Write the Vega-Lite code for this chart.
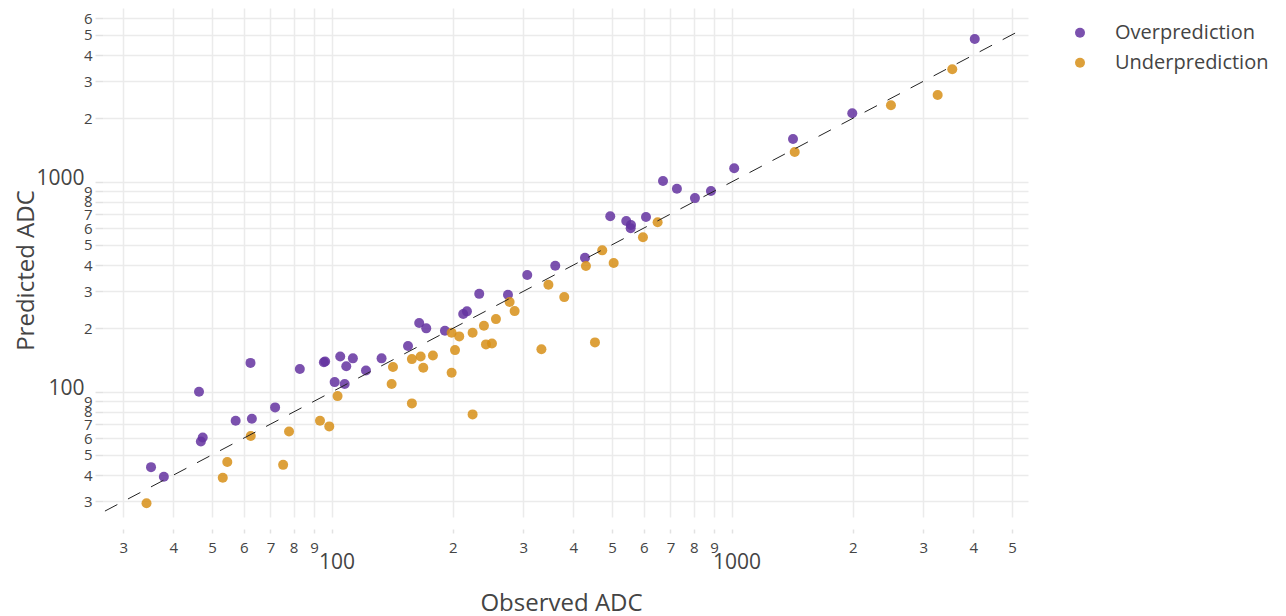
{
  "$schema": "https://vega.github.io/schema/vega-lite/v6.json",
  "width": 925,
  "height": 509,
  "autosize": {"type": "none"},
  "padding": {"left": 103, "top": 8, "right": 258, "bottom": 99},
  "background": "white",
  "config": {"view": {"stroke": null}, "font": "Open Sans"},
  "encoding": {
    "x": {
      "field": "obs", "type": "quantitative",
      "scale": {"type": "log", "domain": [26.7, 5480], "nice": false, "zero": false},
      "axis": {
        "title": "Observed ADC",
        "values": [30, 40, 50, 60, 70, 80, 90, 100, 200, 300, 400, 500, 600, 700, 800, 900, 1000, 2000, 3000, 4000, 5000],
        "labelExpr": "datum.value==100||datum.value==1000 ? toString(datum.value) : substring(toString(datum.value),0,1)",
        "labelFontSize": {"condition": {"test": "datum.value==100||datum.value==1000", "value": 21}, "value": 15},
        "labelPadding": {"condition": {"test": "datum.value==100||datum.value==1000", "value": 18}, "value": 7},
        "labelOffset": {"condition": {"test": "datum.value==100||datum.value==1000", "value": 4}, "value": 0},
        "labelFlush": false, "labelOverlap": false, "labelColor": "#444", "labelFont": "Open Sans",
        "offset": 12, "tickSize": 4, "tickColor": "#e2e2e2", "tickWidth": 1.5,
        "domain": false, "grid": true, "gridColor": "#ebebeb", "gridWidth": 1.5,
        "titleFontSize": 24, "titleFont": "Open Sans", "titleFontWeight": "normal", "titleColor": "#444",
        "titleX": 458, "titleY": 81, "titleBaseline": "alphabetic", "titleAlign": "center", "titleAnchor": null
      }
    },
    "y": {
      "field": "pred", "type": "quantitative",
      "scale": {"type": "log", "domain": [25.3, 6700], "nice": false, "zero": false},
      "axis": {
        "title": "Predicted ADC",
        "values": [30, 40, 50, 60, 70, 80, 90, 100, 200, 300, 400, 500, 600, 700, 800, 900, 1000, 2000, 3000, 4000, 5000, 6000],
        "labelExpr": "datum.value==100||datum.value==1000 ? toString(datum.value) : substring(toString(datum.value),0,1)",
        "labelFontSize": {"condition": {"test": "datum.value==100||datum.value==1000", "value": 21}, "value": 15},
        "labelPadding": {"condition": {"test": "datum.value==100||datum.value==1000", "value": 11}, "value": 3},
        "labelOffset": {"condition": {"test": "datum.value==100||datum.value==1000", "value": -3}, "value": 0},
        "labelFlush": false, "labelOverlap": false, "labelColor": "#444", "labelFont": "Open Sans",
        "tickSize": 8, "tickColor": "#e2e2e2", "tickWidth": 1.5,
        "domain": false, "grid": true, "gridColor": "#ebebeb", "gridWidth": 1.5,
        "titleFontSize": 24, "titleFont": "Open Sans", "titleFontWeight": "normal", "titleColor": "#444",
        "titleX": -70, "titleY": 262, "titleBaseline": "alphabetic", "titleAlign": "center", "titleAngle": 270, "titleAnchor": null
      }
    }
  },
  "layer": [
    {
      "data": {"values": [
        {"obs": 35.2, "pred": 43.7, "type": "Overprediction"},
        {"obs": 37.9, "pred": 39.3, "type": "Overprediction"},
        {"obs": 46.4, "pred": 99.8, "type": "Overprediction"},
        {"obs": 46.9, "pred": 57.9, "type": "Overprediction"},
        {"obs": 47.4, "pred": 60.5, "type": "Overprediction"},
        {"obs": 57.3, "pred": 72.6, "type": "Overprediction"},
        {"obs": 62.9, "pred": 74.2, "type": "Overprediction"},
        {"obs": 62.4, "pred": 137, "type": "Overprediction"},
        {"obs": 71.9, "pred": 84.1, "type": "Overprediction"},
        {"obs": 82.9, "pred": 128, "type": "Overprediction"},
        {"obs": 95.2, "pred": 138, "type": "Overprediction"},
        {"obs": 95.9, "pred": 139, "type": "Overprediction"},
        {"obs": 104.6, "pred": 147, "type": "Overprediction"},
        {"obs": 112.5, "pred": 144, "type": "Overprediction"},
        {"obs": 108.3, "pred": 132, "type": "Overprediction"},
        {"obs": 101.3, "pred": 111, "type": "Overprediction"},
        {"obs": 107.3, "pred": 108.6, "type": "Overprediction"},
        {"obs": 121.3, "pred": 126, "type": "Overprediction"},
        {"obs": 132.7, "pred": 144, "type": "Overprediction"},
        {"obs": 154.5, "pred": 165, "type": "Overprediction"},
        {"obs": 164.8, "pred": 212, "type": "Overprediction"},
        {"obs": 171.6, "pred": 200, "type": "Overprediction"},
        {"obs": 191.1, "pred": 195, "type": "Overprediction"},
        {"obs": 212.3, "pred": 234, "type": "Overprediction"},
        {"obs": 216.9, "pred": 241, "type": "Overprediction"},
        {"obs": 232.8, "pred": 292, "type": "Overprediction"},
        {"obs": 274.7, "pred": 289, "type": "Overprediction"},
        {"obs": 306.9, "pred": 359, "type": "Overprediction"},
        {"obs": 360.6, "pred": 397, "type": "Overprediction"},
        {"obs": 427.9, "pred": 434, "type": "Overprediction"},
        {"obs": 494.9, "pred": 683, "type": "Overprediction"},
        {"obs": 542.7, "pred": 649, "type": "Overprediction"},
        {"obs": 557.6, "pred": 621, "type": "Overprediction"},
        {"obs": 556.6, "pred": 599, "type": "Overprediction"},
        {"obs": 607.9, "pred": 678, "type": "Overprediction"},
        {"obs": 670.4, "pred": 1006, "type": "Overprediction"},
        {"obs": 726.4, "pred": 924, "type": "Overprediction"},
        {"obs": 805.8, "pred": 834, "type": "Overprediction"},
        {"obs": 883.5, "pred": 901, "type": "Overprediction"},
        {"obs": 1010, "pred": 1156, "type": "Overprediction"},
        {"obs": 1417, "pred": 1594, "type": "Overprediction"},
        {"obs": 1993, "pred": 2113, "type": "Overprediction"},
        {"obs": 4033, "pred": 4771, "type": "Overprediction"},
        {"obs": 34.3, "pred": 29.4, "type": "Underprediction"},
        {"obs": 53.2, "pred": 38.9, "type": "Underprediction"},
        {"obs": 54.6, "pred": 46.2, "type": "Underprediction"},
        {"obs": 62.5, "pred": 61.5, "type": "Underprediction"},
        {"obs": 75.3, "pred": 44.8, "type": "Underprediction"},
        {"obs": 77.9, "pred": 64.6, "type": "Underprediction"},
        {"obs": 93.1, "pred": 72.6, "type": "Underprediction"},
        {"obs": 98.2, "pred": 68.3, "type": "Underprediction"},
        {"obs": 103, "pred": 95.2, "type": "Underprediction"},
        {"obs": 140.6, "pred": 108.6, "type": "Underprediction"},
        {"obs": 141.7, "pred": 131, "type": "Underprediction"},
        {"obs": 158, "pred": 142.8, "type": "Underprediction"},
        {"obs": 166.2, "pred": 147, "type": "Underprediction"},
        {"obs": 168.7, "pred": 129.8, "type": "Underprediction"},
        {"obs": 158, "pred": 87.9, "type": "Underprediction"},
        {"obs": 178.3, "pred": 148.7, "type": "Underprediction"},
        {"obs": 198.6, "pred": 190.5, "type": "Underprediction"},
        {"obs": 207.5, "pred": 183.2, "type": "Underprediction"},
        {"obs": 202.5, "pred": 157.6, "type": "Underprediction"},
        {"obs": 198.6, "pred": 122.9, "type": "Underprediction"},
        {"obs": 224.1, "pred": 190.5, "type": "Underprediction"},
        {"obs": 239.2, "pred": 205.8, "type": "Underprediction"},
        {"obs": 256.3, "pred": 221.4, "type": "Underprediction"},
        {"obs": 242, "pred": 167.8, "type": "Underprediction"},
        {"obs": 250.5, "pred": 169.6, "type": "Underprediction"},
        {"obs": 224.1, "pred": 77.9, "type": "Underprediction"},
        {"obs": 277.3, "pred": 266.8, "type": "Underprediction"},
        {"obs": 285.4, "pred": 241.7, "type": "Underprediction"},
        {"obs": 346.7, "pred": 322.3, "type": "Underprediction"},
        {"obs": 333, "pred": 159, "type": "Underprediction"},
        {"obs": 379.8, "pred": 281.8, "type": "Underprediction"},
        {"obs": 430.3, "pred": 396, "type": "Underprediction"},
        {"obs": 472.6, "pred": 470.4, "type": "Underprediction"},
        {"obs": 504.7, "pred": 409.3, "type": "Underprediction"},
        {"obs": 597.4, "pred": 542.5, "type": "Underprediction"},
        {"obs": 650, "pred": 640, "type": "Underprediction"},
        {"obs": 453.2, "pred": 171.5, "type": "Underprediction"},
        {"obs": 1431, "pred": 1382, "type": "Underprediction"},
        {"obs": 2490, "pred": 2307, "type": "Underprediction"},
        {"obs": 3258, "pred": 2582, "type": "Underprediction"},
        {"obs": 3544, "pred": 3421, "type": "Underprediction"}
      ]},
      "mark": {"type": "circle", "size": 100, "opacity": 0.85},
      "encoding": {
        "color": {
          "field": "type", "type": "nominal",
          "scale": {"domain": ["Overprediction", "Underprediction"], "range": ["#6432A0", "#D78F18"]},
          "legend": {
            "title": null, "orient": "none", "legendX": 967, "legendY": 14.7,
            "labelFontSize": 20, "labelColor": "#444", "labelFont": "Open Sans",
            "symbolSize": 100, "symbolType": "circle", "symbolOpacity": 0.85, "symbolStrokeWidth": 0,
            "labelOffset": 25, "rowPadding": 10
          }
        }
      }
    },
    {
      "data": {"values": [
        {"obs": 27, "pred": 27},
        {"obs": 5100, "pred": 5100}
      ]},
      "mark": {"type": "line", "strokeDash": [14, 12], "strokeWidth": 1, "color": "#222"},
      "encoding": {}
    }
  ]
}
